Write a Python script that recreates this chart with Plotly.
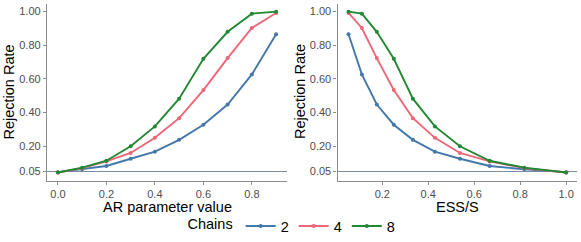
import plotly.graph_objects as go

ar_values = [0.0, 0.1, 0.2, 0.3, 0.4, 0.5, 0.6, 0.7, 0.8, 0.9]
ess_ratio = [1.0, 0.818, 0.667, 0.538, 0.429, 0.333, 0.25, 0.176, 0.111, 0.053]
chains = ["2", "4", "8"]
rates = {
    "2": [0.046, 0.063, 0.083, 0.126, 0.168, 0.238, 0.328, 0.448, 0.627, 0.866],
    "4": [0.044, 0.070, 0.110, 0.160, 0.250, 0.367, 0.534, 0.724, 0.903, 0.992],
    "8": [0.044, 0.073, 0.114, 0.200, 0.318, 0.483, 0.720, 0.880, 0.988, 1.000],
}
colors = {"2": "#4477AA", "4": "#EE6677", "8": "#228833"}
y_ticks = [0.05, 0.20, 0.40, 0.60, 0.80, 1.00]
y_tick_labels = ["0.05", "0.20", "0.40", "0.60", "0.80", "1.00"]
left_x_ticks = [0.0, 0.2, 0.4, 0.6, 0.8]
right_x_ticks = [0.2, 0.4, 0.6, 0.8, 1.0]

FONT = "Liberation Sans"
fig = go.Figure()
for c in chains:
    fig.add_trace(go.Scatter(x=ar_values, y=rates[c], mode="lines+markers",
                             line=dict(color=colors[c], width=1.9),
                             marker=dict(color=colors[c], size=4),
                             name=c, legendgroup=c, showlegend=True,
                             xaxis="x", yaxis="y"))
    fig.add_trace(go.Scatter(x=ess_ratio, y=rates[c], mode="lines+markers",
                             line=dict(color=colors[c], width=1.9),
                             marker=dict(color=colors[c], size=4),
                             name=c, legendgroup=c, showlegend=False,
                             xaxis="x2", yaxis="y2"))

axis_common = dict(showline=True, linecolor="#8c8c8c", linewidth=1.3,
                   ticks="outside", ticklen=3, tickcolor="#8c8c8c", tickwidth=1,
                   showgrid=False, zeroline=False,
                   tickfont=dict(family=FONT, size=11, color="#4D4D4D"))

title_font = dict(family=FONT, size=14.5, color="black")
fig.update_layout(
    width=581, height=242, margin=dict(l=0, r=0, t=0, b=0),
    plot_bgcolor="white", paper_bgcolor="white",
    xaxis=dict(domain=[0.0809, 0.494], range=[-0.045, 0.945],
               tickvals=left_x_ticks, ticktext=["0.0", "0.2", "0.4", "0.6", "0.8"],
               anchor="y", **axis_common),
    yaxis=dict(domain=[0.238, 0.985], range=[-0.004, 1.048],
               tickvals=y_ticks, ticktext=y_tick_labels, anchor="x", **axis_common),
    xaxis2=dict(domain=[0.581, 0.993], range=[0.0053, 1.047],
                tickvals=right_x_ticks, ticktext=["0.2", "0.4", "0.6", "0.8", "1.0"],
                anchor="y2", **axis_common),
    yaxis2=dict(domain=[0.238, 0.985], range=[-0.004, 1.048],
                tickvals=y_ticks, ticktext=y_tick_labels, anchor="x2", **axis_common),
    legend=dict(orientation="h", x=293/581, xanchor="center", y=1-231/242, yanchor="middle",
                title=dict(text="Chains", font=dict(family=FONT, size=14.5, color="black")),
                font=dict(family=FONT, size=14.5, color="black"),
                itemwidth=30, tracegroupgap=0),
    shapes=[
        dict(type="line", xref="x domain", yref="y", x0=0, x1=1, y0=0.05, y1=0.05,
             line=dict(color="#7A8CA3", width=1), layer="below"),
        dict(type="line", xref="x2 domain", yref="y2", x0=0, x1=1, y0=0.05, y1=0.05,
             line=dict(color="#7A8CA3", width=1), layer="below"),
    ],
    annotations=[
        dict(text="Rejection Rate", xref="paper", yref="paper", x=9.5/581, y=1-94/242,
             xanchor="center", yanchor="middle",
             textangle=-90, showarrow=False, font=title_font),
        dict(text="Rejection Rate", xref="paper", yref="paper", x=300/581, y=1-94/242,
             xanchor="center", yanchor="middle",
             textangle=-90, showarrow=False, font=title_font),
        dict(text="AR parameter value", xref="paper", yref="paper", x=167/581, y=1-211.5/242,
             xanchor="center", yanchor="middle", showarrow=False, font=title_font),
        dict(text="ESS/S", xref="paper", yref="paper", x=457/581, y=1-211.5/242,
             xanchor="center", yanchor="middle", showarrow=False, font=title_font),
    ],
)
fig.write_html("out.html", config={"displayModeBar": False},
               post_script="document.body.style.margin='0';document.body.style.overflow='hidden';")
